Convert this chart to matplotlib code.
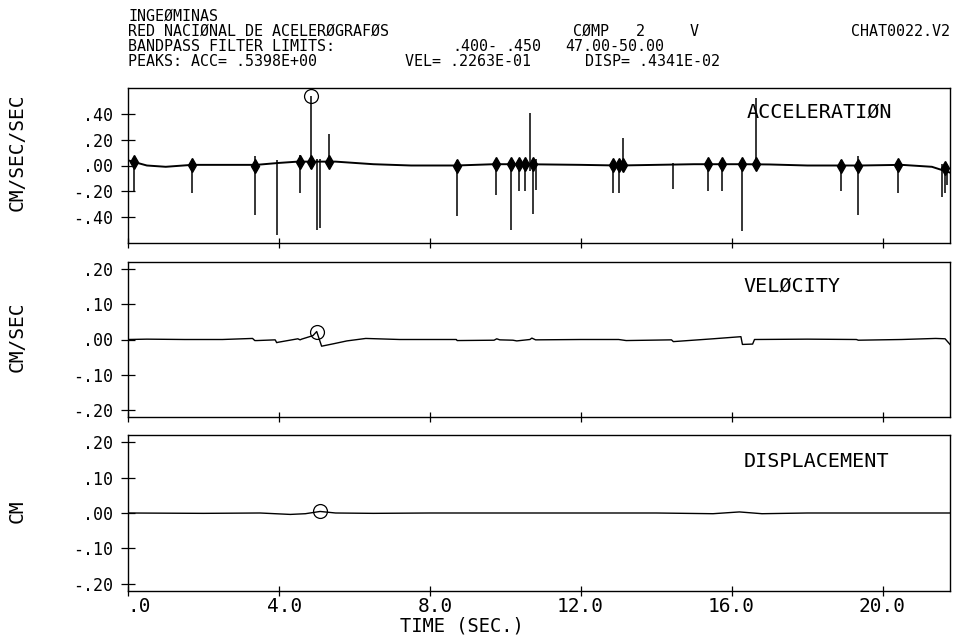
import matplotlib
matplotlib.use("Agg")
import matplotlib.pyplot as plt
import matplotlib.transforms as mtransforms

plt.rcParams['font.family'] = ['DejaVu Sans Mono', 'DejaVu Sans']

# ---------------- data ----------------
x_ticks = [0, 4, 8, 12, 16, 20]
x_tick_labels = [".0", "4.0", "8.0", "12.0", "16.0", "20.0"]
t_end = 21.78

acc_ticks = [-0.4, -0.2, 0.0, 0.2, 0.4]
acc_tick_labels = ["-.40", "-.20", ".00", ".20", ".40"]
vd_ticks = [-0.2, -0.1, 0.0, 0.1, 0.2]
vd_tick_labels = ["-.20", "-.10", ".00", ".10", ".20"]

# acceleration: slow baseline
acc_base_t = [0.0, 0.5, 1.0, 1.7, 2.5, 3.4, 4.0, 4.5, 5.0, 5.5, 6.5, 7.5,
              8.7, 9.7, 10.5, 12.0, 13.0, 15.0, 16.3, 17.0, 18.0, 19.4,
              20.5, 21.3, 21.78]
acc_base_v = [0.04, 0.0, -0.01, 0.005, 0.005, 0.005, 0.02, 0.03, 0.03, 0.03,
              0.01, 0.0, 0.0, 0.01, 0.01, 0.005, 0.0, 0.01, 0.01, 0.008,
              0.0, 0.0, 0.005, -0.01, -0.055]

# acceleration: spikes (time, upper end, lower end)
spike_t = [0.16, 1.69, 3.36, 3.94, 4.56, 4.85, 5.02, 5.09, 5.33,
           8.71, 9.74, 10.16, 10.36, 10.52, 10.65, 10.74, 10.80,
           12.84, 13.01, 13.12, 14.45, 15.36, 15.73, 16.27, 16.63,
           18.88, 19.35, 20.39, 21.57, 21.64, 21.71]
spike_hi = [0.06, 0.04, 0.07, 0.04, 0.08, 0.5398, 0.05, 0.05, 0.245,
            0.04, 0.05, 0.04, 0.04, 0.04, 0.41, 0.05, 0.05,
            0.03, 0.03, 0.215, 0.02, 0.04, 0.04, 0.04, 0.52,
            0.04, 0.07, 0.04, 0.01, 0.0, -0.02]
spike_lo = [-0.20, -0.21, -0.38, -0.535, -0.21, -0.03, -0.50, -0.48, 0.0,
            -0.39, -0.23, -0.50, -0.20, -0.20, -0.04, -0.375, -0.19,
            -0.21, -0.21, -0.03, -0.185, -0.20, -0.20, -0.51, -0.03,
            -0.20, -0.38, -0.21, -0.24, -0.21, -0.15]

# acceleration: short bursts around the spikes
burst_t = [0.16, 1.69, 3.36, 4.56, 4.85, 5.33, 8.71, 9.74, 10.16, 10.36,
           10.52, 10.72, 12.84, 13.01, 13.12, 15.36, 15.73, 16.27, 16.63,
           18.88, 19.35, 20.39, 21.64]
burst_v = [0.03, 0.005, 0.0, 0.03, 0.03, 0.03, 0.0, 0.01, 0.01, 0.01,
           0.01, 0.01, 0.005, 0.005, 0.005, 0.01, 0.01, 0.01, 0.01,
           0.0, 0.0, 0.005, -0.02]

# velocity
vel_t = [0.0, 0.5, 1.5, 2.5, 3.3, 3.36, 3.42, 3.9, 3.94, 3.97, 4.5, 4.56,
         4.6, 4.9, 5.0, 5.13, 5.45, 5.8, 6.3, 7.2, 8.7, 8.72, 9.7, 9.77,
         9.85, 10.2, 10.3, 10.65, 10.7, 10.8, 12.0, 13.0, 13.2, 14.4, 14.45,
         15.5, 16.24, 16.28, 16.55, 16.6, 18.0, 19.3, 19.35, 20.5, 21.4,
         21.65, 21.78]
vel_v = [0.0, 0.001, 0.0, 0.0, 0.003, -0.003, -0.003, -0.001, -0.009, -0.008,
         0.002, -0.001, 0.001, 0.011, 0.0226, -0.019, -0.012, -0.004, 0.003,
         0.0, 0.0, -0.003, -0.002, 0.002, -0.001, -0.002, -0.004, 0.0, 0.004,
         -0.001, 0.0, 0.0, -0.003, -0.001, -0.006, 0.002, 0.008, -0.014,
         -0.013, 0.0, 0.001, 0.0, -0.002, 0.0, 0.003, 0.002, -0.014]

# displacement
disp_t = [0.0, 2.0, 3.5, 4.3, 4.7, 5.09, 5.5, 6.5, 8.0, 10.0, 12.0, 14.0,
          15.5, 16.2, 16.8, 18.0, 20.0, 21.78]
disp_v = [0.0, -0.001, 0.0, -0.004, -0.002, 0.004341, 0.0, -0.001, 0.0, 0.0,
          0.0, 0.0, -0.002, 0.003, -0.002, 0.0, 0.0, 0.0]

# peaks (circled)
acc_peak = (4.85, 0.5398)
vel_peak = (5.0, 0.02263)
disp_peak = (5.09, 0.004341)

# ---------------- figure ----------------
W, H = 972, 638
fig = plt.figure(figsize=(W / 100, H / 100), dpi=100)


def fx(px):
    return px / W


def fy(py):
    return 1 - py / H


def make_axes(top, bottom):
    return fig.add_axes([fx(128), fy(bottom), fx(950) - fx(128), fy(top) - fy(bottom)])


ax1 = make_axes(88, 243)
ax2 = make_axes(262, 417)
ax3 = make_axes(435, 591)

lw = 1.0
ax1.vlines(spike_t, spike_lo, spike_hi, color='k', lw=1.1)
ax1.plot(acc_base_t, acc_base_v, color='k', lw=1.4)
ax1.plot(burst_t, burst_v, 'kd', ms=7, ls='none')
ax1.plot([acc_peak[0]], [acc_peak[1]], 'o', mfc='none', mec='k', ms=10, mew=0.9)

ax2.plot(vel_t, vel_v, color='k', lw=lw)
ax2.plot([vel_peak[0]], [vel_peak[1]], 'o', mfc='none', mec='k', ms=10, mew=0.9)

ax3.plot(disp_t, disp_v, color='k', lw=lw)
ax3.plot([disp_peak[0]], [disp_peak[1]], 'o', mfc='none', mec='k', ms=10, mew=0.9)

ax1.set_ylim(-0.6, 0.6)
ax2.set_ylim(-0.22, 0.22)
ax3.set_ylim(-0.22, 0.22)

ax1.set_yticks(acc_ticks)
ax1.set_yticklabels(acc_tick_labels)
for ax in (ax2, ax3):
    ax.set_yticks(vd_ticks)
    ax.set_yticklabels(vd_tick_labels)

for ax in (ax1, ax2, ax3):
    ax.set_xlim(0, t_end)
    ax.set_xticks(x_ticks)
    ax.tick_params(axis='y', direction='inout', length=10, width=0.9,
                   pad=6, labelsize=12)
    ax.tick_params(axis='x', direction='inout', length=7, width=0.9, pad=1)
    for s in ax.spines.values():
        s.set_linewidth(1.0)

ax1.tick_params(axis='x', labelbottom=False)
ax2.tick_params(axis='x', labelbottom=False)
ax3.set_xticklabels(x_tick_labels, fontsize=14)
offset = mtransforms.ScaledTranslation(0.23, 0, fig.dpi_scale_trans)
for lab in ax3.get_xticklabels():
    lab.set_ha('right')
    lab.set_transform(lab.get_transform() + offset)

ax3.set_xlabel("TIME (SEC.)", fontsize=13.5)
ax3.xaxis.set_label_coords((462 - 128) / 822, (591 - 617) / 156)

ylab_x = (17 - 128) / 822
ax1.set_ylabel("CM/SEC/SEC", fontsize=14, ha='center', va='center')
ax1.yaxis.set_label_coords(ylab_x, (243 - 152) / 155)
ax2.set_ylabel("CM/SEC", fontsize=14, ha='center', va='center')
ax2.yaxis.set_label_coords(ylab_x, (417 - 337) / 155)
ax3.set_ylabel("CM", fontsize=14, ha='center', va='center')
ax3.yaxis.set_label_coords(ylab_x, (591 - 511) / 156)

ax1.text(0.752, 0.806, "ACCELERATIØN", transform=ax1.transAxes,
         fontsize=14.5, va='baseline', ha='left')
ax2.text(0.749, 0.806, "VELØCITY", transform=ax2.transAxes,
         fontsize=14.5, va='baseline', ha='left')
ax3.text(0.749, 0.795, "DISPLACEMENT", transform=ax3.transAxes,
         fontsize=14.5, va='baseline', ha='left')

hs = 10.8
fig.text(fx(128), fy(21), "INGEØMINAS", fontsize=hs, va='baseline')
fig.text(fx(128), fy(36), "RED NACIØNAL DE ACELERØGRAFØS", fontsize=hs, va='baseline')
fig.text(fx(573), fy(36), "CØMP   2     V", fontsize=hs, va='baseline')
fig.text(fx(950), fy(36), "CHAT0022.V2", fontsize=hs, va='baseline', ha='right')
fig.text(fx(128), fy(51), "BANDPASS FILTER LIMITS:", fontsize=hs, va='baseline')
fig.text(fx(452), fy(51), ".400-", fontsize=hs, va='baseline')
fig.text(fx(505), fy(51), ".450", fontsize=hs, va='baseline')
fig.text(fx(565), fy(51), "47.00-50.00", fontsize=hs, va='baseline')
fig.text(fx(128), fy(66), "PEAKS: ACC= .5398E+00", fontsize=hs, va='baseline')
fig.text(fx(405), fy(66), "VEL= .2263E-01", fontsize=hs, va='baseline')
fig.text(fx(585), fy(66), "DISP= .4341E-02", fontsize=hs, va='baseline')

fig.savefig("out.png", dpi=100)
